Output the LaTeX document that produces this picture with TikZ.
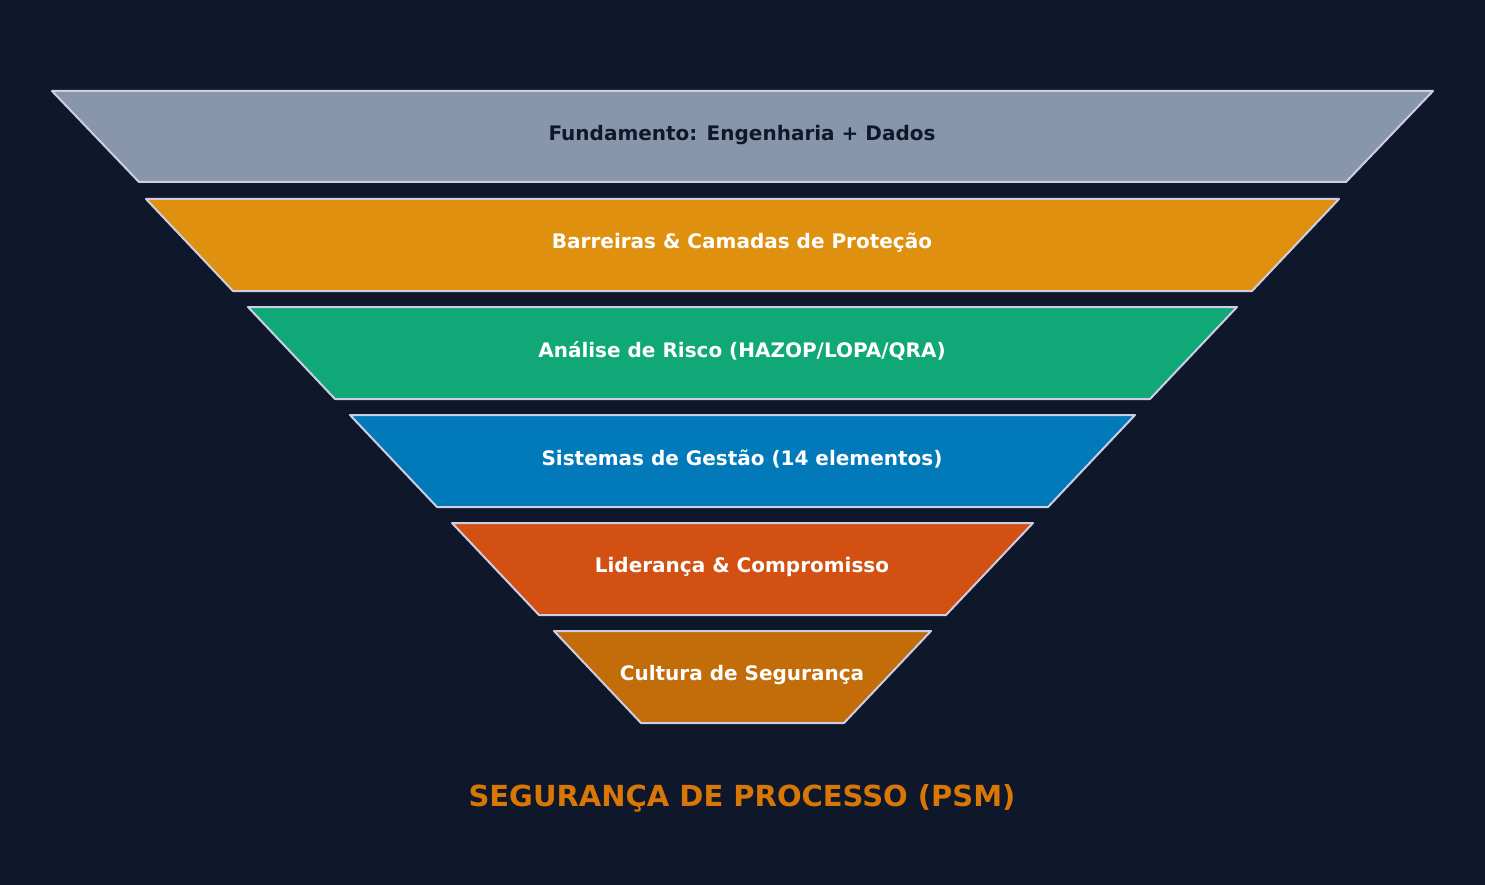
\documentclass[tikz,border=0pt]{standalone}
\usepackage{fontspec}
\setmainfont{DejaVu Sans}
\begin{document}
\begin{tikzpicture}[x=1pt,y=-1pt,
  layer/.style={draw=white!88!blue!80!gray,line width=2pt,line join=round},
  lbl/.style={font=\fontsize{20}{24}\selectfont\bfseries,text=white}]
\definecolor{bg}{HTML}{0F172A}
\definecolor{c1}{HTML}{8896AB}
\definecolor{c2}{HTML}{DE900E}
\definecolor{c3}{HTML}{10A877}
\definecolor{c4}{HTML}{0279B8}
\definecolor{c5}{HTML}{D25011}
\definecolor{c6}{HTML}{C36C0A}
\definecolor{tt}{HTML}{D97706}
\fill[bg] (0,0) rectangle (1485,885);
\useasboundingbox (0,0) rectangle (1485,885);
\draw[layer,fill=c1] (52,91)--(1433,91)--(1346,182)--(139,182)--cycle;
\draw[layer,fill=c2] (146,199)--(1339,199)--(1252,291)--(233,291)--cycle;
\draw[layer,fill=c3] (248,307)--(1237,307)--(1150,399)--(335,399)--cycle;
\draw[layer,fill=c4] (350,415)--(1135,415)--(1048,507)--(437,507)--cycle;
\draw[layer,fill=c5] (452,523)--(1033,523)--(946,615)--(539,615)--cycle;
\draw[layer,fill=c6] (554,631)--(931,631)--(844,723)--(641,723)--cycle;
\node[lbl,text=bg] (l1) at (742,135) {Fundamento: Engenharia + Dados};
\node[lbl] (l2) at (742,243) {Barreiras \& Camadas de Proteção};
\node[lbl] (l3) at (742,351) {Análise de Risco (HAZOP/LOPA/QRA)};
\node[lbl] (l4) at (742,459) {Sistemas de Gestão (14 elementos)};
\node[lbl] (l5) at (742,567) {Liderança \& Compromisso};
\node[lbl] (l6) at (742,675) {Cultura de Segurança};
\node[font=\fontsize{29}{34}\selectfont\bfseries,text=tt] (title) at (742,798) {SEGURANÇA DE PROCESSO (PSM)};
\end{tikzpicture}
\end{document}
